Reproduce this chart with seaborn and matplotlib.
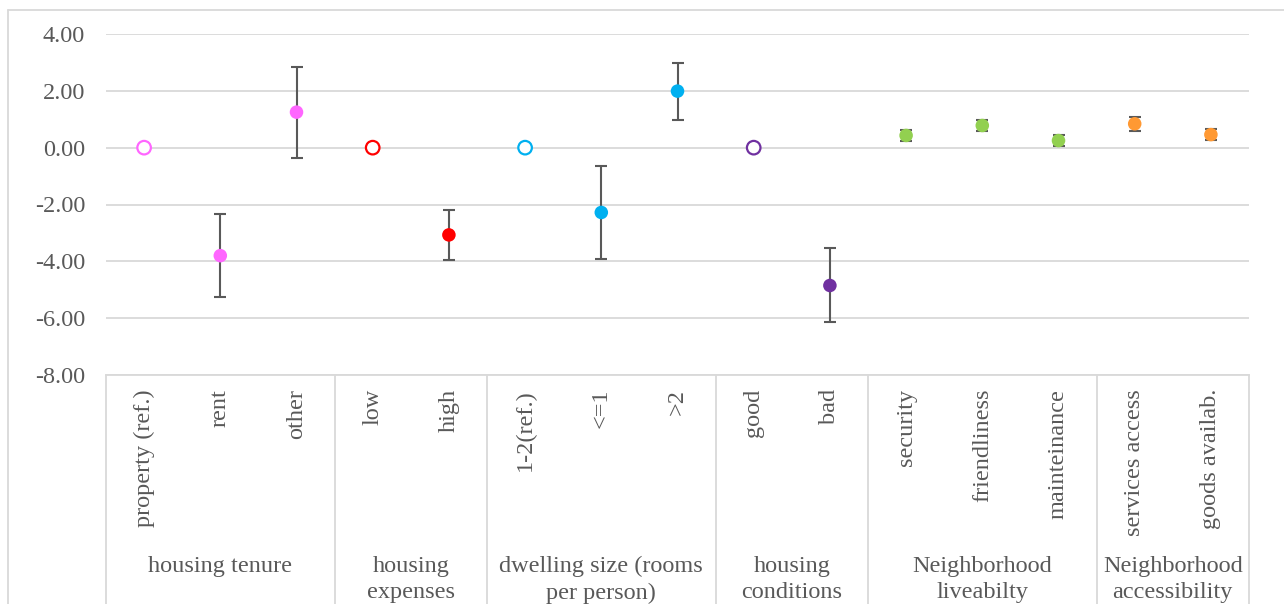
import numpy as np
import pandas as pd
import matplotlib
matplotlib.use("Agg")
import matplotlib.pyplot as plt
import matplotlib.transforms as mtransforms
import seaborn as sns

# ---------------- data ----------------
categories = ["property (ref.)", "rent", "other",
              "low", "high",
              "1-2(ref.)", "<=1", ">2",
              "good", "bad",
              "security", "friendliness", "mainteinance",
              "services access", "goods availab."]
groups = ["housing tenure", "housing tenure", "housing tenure",
          "housing\nexpenses", "housing\nexpenses",
          "dwelling size (rooms\nper person)", "dwelling size (rooms\nper person)",
          "dwelling size (rooms\nper person)",
          "housing\nconditions", "housing\nconditions",
          "Neighborhood\nliveabilty", "Neighborhood\nliveabilty", "Neighborhood\nliveabilty",
          "Neighborhood\naccessibility", "Neighborhood\naccessibility"]
values = [0.0, -3.80, 1.25,
          0.0, -3.07,
          0.0, -2.28, 1.99,
          0.0, -4.85,
          0.43, 0.78, 0.25,
          0.84, 0.46]
upper = [np.nan, -2.35, 2.84,
         np.nan, -2.20,
         np.nan, -0.63, 2.98,
         np.nan, -3.54,
         0.62, 0.99, 0.45,
         1.07, 0.66]
lower = [np.nan, -5.24, -0.35,
         np.nan, -3.96,
         np.nan, -3.93, 0.96,
         np.nan, -6.15,
         0.23, 0.57, 0.05,
         0.60, 0.26]
is_ref = [True, False, False,
          True, False,
          True, False, False,
          True, False,
          False, False, False,
          False, False]
group_colors = {
    "housing tenure": "#FF66FF",
    "housing\nexpenses": "#FF0000",
    "dwelling size (rooms\nper person)": "#00B0F0",
    "housing\nconditions": "#7030A0",
    "Neighborhood\nliveabilty": "#92D050",
    "Neighborhood\naccessibility": "#FF9933",
}
yticks = [4, 2, 0, -2, -4, -6, -8]

df = pd.DataFrame({"category": categories, "group": groups, "value": values,
                   "upper": upper, "lower": lower, "ref": is_ref})
df["pos"] = np.arange(len(df))

# ---------------- style ----------------
sns.set_theme(style="white")
plt.rcParams["font.family"] = ["Liberation Serif", "DejaVu Serif"]
TXT = "#595959"
GRID = "#D9D9D9"
FS = 17.5

W, H = 1284, 604
fig = plt.figure(figsize=(W / 100, H / 100), dpi=100)
ax_l, ax_r, ax_t, ax_b = 106, 1249, 34, 375
ax = fig.add_axes([ax_l / W, 1 - ax_b / H, (ax_r - ax_l) / W, (ax_b - ax_t) / H])

# outer chart frame
fig.add_artist(plt.Line2D([8 / W, 1.0], [1 - 10 / H, 1 - 10 / H], color=GRID, lw=1.3))
fig.add_artist(plt.Line2D([8 / W, 8 / W], [0, 1 - 10 / H], color=GRID, lw=1.3))

# error bars
eb = df.dropna(subset=["upper"])
ax.errorbar(eb["pos"], eb["value"],
            yerr=[eb["value"] - eb["lower"], eb["upper"] - eb["value"]],
            fmt="none", ecolor=TXT, elinewidth=1.5, capsize=4.3, capthick=1.5, zorder=2)

# filled points
sns.scatterplot(data=df[~df["ref"]], x="pos", y="value", hue="group",
                palette=group_colors, s=95, linewidth=0, legend=False, ax=ax, zorder=3)
# hollow reference points
sns.scatterplot(data=df[df["ref"]], x="pos", y="value", hue="group",
                palette=group_colors, s=95, linewidth=0, legend=False, ax=ax, zorder=4)
coll = ax.collections[-1]
fc = coll.get_facecolors()
coll.set_edgecolors(fc)
coll.set_facecolors("white")
coll.set_linewidth(1.6)

ax.set_xlim(-0.5, len(df) - 0.5)
ax.set_ylim(-8, 4)
ax.set_yticks(yticks)
ax.set_yticklabels([f"{v:.2f}" for v in yticks])
ax.yaxis.grid(True, color=GRID, lw=1.3)
ax.set_axisbelow(True)
for s in ["top", "right", "left"]:
    ax.spines[s].set_visible(False)
ax.spines["bottom"].set_color(GRID)
ax.spines["bottom"].set_linewidth(1.3)

ax.set_xticks(df["pos"])
ax.set_xticklabels(df["category"], rotation=90, va="top", ha="center")
ax.tick_params(axis="x", length=0, pad=10, labelsize=FS, labelcolor=TXT)
ax.tick_params(axis="y", length=0, pad=15, labelsize=FS, labelcolor=TXT)
ax.set_xlabel("")
ax.set_ylabel("")

# group dividers and group labels
trans = mtransforms.blended_transform_factory(ax.transData, ax.transAxes)
axh = ax_b - ax_t
y_bottom = -(H - ax_b) / axh
order = list(dict.fromkeys(groups))
start = 0
bounds = [-0.5]
for g in order:
    n = groups.count(g)
    end = start + n
    bounds.append(end - 0.5)
    mid = (start + end - 1) / 2
    ax.text(mid, -(556 - ax_b) / axh, g, transform=trans, ha="center", va="top",
            fontsize=FS, color=TXT, linespacing=1.32, multialignment="center")
    start = end
for b in bounds:
    ax.plot([b, b], [0, y_bottom], transform=trans, color=GRID, lw=1.3, clip_on=False)

fig.savefig("out.png", dpi=100, facecolor="white")
